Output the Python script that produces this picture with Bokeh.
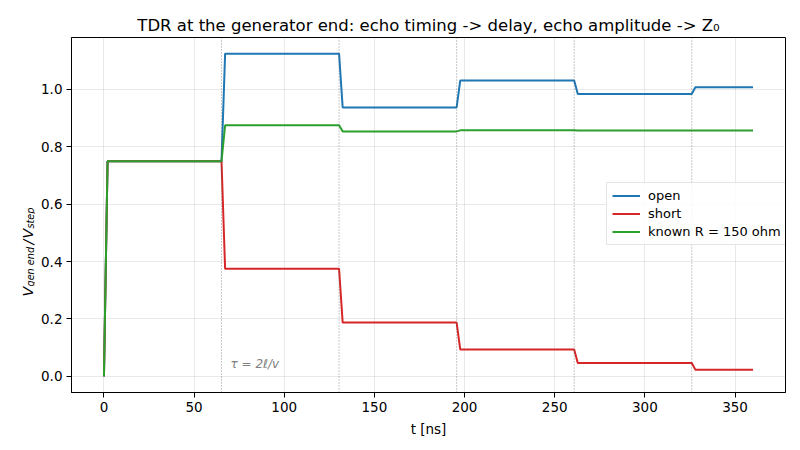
import math
from bokeh.plotting import figure
from bokeh.layouts import row
from bokeh.models import Span, Label, FixedTicker, PrintfTickFormatter, Legend, LegendItem, Range1d
from bokeh.embed import file_html
from bokeh.resources import INLINE

# ---- data ----
step_times = [0.0, 65.2, 130.4, 195.6, 260.8, 326.0]   # ns, echo arrival times
ramp_ns = 2.0                                          # rise time of each step
t_end = 360.0
open_levels = [0.75, 1.125, 0.9375, 1.03125, 0.984375, 1.0078]
short_levels = [0.75, 0.375, 0.1875, 0.09375, 0.046875, 0.0234]
known_levels = [0.75, 0.875, 0.854, 0.8576, 0.8570, 0.8571]
series_names = ["open", "short", "known R = 150 ohm"]
series_colors = ["#1f77b4", "#d62728", "#2ca02c"]
echo_marks = [65.2, 130.4, 195.6, 260.8, 326.0]
x_ticks = [0, 50, 100, 150, 200, 250, 300, 350]
y_ticks = [0.0, 0.2, 0.4, 0.6, 0.8, 1.0]
title_text = "TDR at the generator end: echo timing -> delay, echo amplitude -> Z₀"

FONT = "DejaVu Sans"
X0, X1 = -18.0, 378.0
Y0, Y1 = -0.05625, 1.18125
FW, FH = 714, 355
LEFT_W = 35          # strip holding the y-axis title
MAIN_BL = 36         # main figure left border (tick labels)
TOTAL_H = 442


def waveform(levels):
    xs, ys = [0.0], [0.0]
    prev = 0.0
    for t, lv in zip(step_times, levels):
        if t > 0:
            xs.append(t)
            ys.append(prev)
        xs.append(t + ramp_ns)
        ys.append(lv)
        prev = lv
    xs.append(t_end)
    ys.append(prev)
    return xs, ys


p = figure(
    frame_width=FW, frame_height=FH,
    min_border_left=MAIN_BL, min_border_right=7, min_border_top=37, min_border_bottom=50,
    x_range=(X0, X1), y_range=(Y0, Y1),
    output_backend="svg", toolbar_location=None, title=title_text,
)
p.title.align = "center"
p.title.text_font = FONT
p.title.text_font_size = "16.5px"
p.title.text_font_style = "normal"
p.title.text_color = "black"
p.title.standoff = 6

p.background_fill_color = "white"
p.border_fill_color = "white"
p.outline_line_color = "black"
p.outline_line_alpha = 1.0
p.outline_line_width = 1

for ax in (p.xaxis, p.yaxis):
    ax.major_tick_out = 5
    ax.major_tick_in = 0
    ax.minor_tick_out = 0
    ax.minor_tick_in = 0
    ax.major_label_text_font = FONT
    ax.major_label_text_font_size = "13.5px"
    ax.major_label_text_color = "black"
    ax.axis_line_color = "black"
    ax.major_tick_line_color = "black"
    ax.axis_label_text_font = FONT
    ax.axis_label_text_font_size = "13.5px"
    ax.axis_label_text_font_style = "normal"
    ax.axis_label_text_color = "black"

p.xaxis.ticker = FixedTicker(ticks=x_ticks)
p.yaxis.ticker = FixedTicker(ticks=y_ticks)
p.yaxis.formatter = PrintfTickFormatter(format="%.1f")
p.xaxis.axis_label = "t [ns]"
p.xaxis.axis_label_standoff = 6
p.xaxis.major_label_standoff = 4
p.yaxis.major_label_standoff = 4

p.grid.grid_line_color = "#b0b0b0"
p.grid.grid_line_alpha = 0.35
p.grid.grid_line_width = 0.8

# echo markers
for t in echo_marks:
    p.add_layout(Span(location=t, dimension="height", line_color="#555555",
                      line_dash="1 2", line_width=0.8, line_alpha=0.8))

items = []
for name, color, levels in zip(series_names, series_colors,
                               [open_levels, short_levels, known_levels]):
    xs, ys = waveform(levels)
    r = p.line(xs, ys, line_color=color, line_width=2)
    items.append(LegendItem(label=name, renderers=[r]))

legend = Legend(items=items, location=(535, 147))
legend.label_text_font = FONT
legend.label_text_font_size = "13px"
legend.label_text_color = "black"
legend.label_height = 15
legend.glyph_height = 15
legend.glyph_width = 28
legend.label_standoff = 8
legend.spacing = 3
legend.padding = 5
legend.margin = 0
legend.border_line_color = "#cccccc"
legend.border_line_width = 1
legend.background_fill_alpha = 0.85
p.add_layout(legend)

# tau annotation
p.add_layout(Label(x=echo_marks[0] + 5, y=0.02, text="τ = 2ℓ/v",
                   text_font=FONT, text_font_style="italic",
                   text_font_size="12px", text_color="#808080"))

# ---- left strip carrying the y-axis title V_gen end / V_step ----
lab = figure(frame_width=LEFT_W, frame_height=TOTAL_H,
             min_border_left=0, min_border_right=0, min_border_top=0, min_border_bottom=0,
             x_range=Range1d(0, LEFT_W), y_range=Range1d(0, TOTAL_H),
             output_backend="svg", toolbar_location=None)
lab.xaxis.visible = False
lab.yaxis.visible = False
lab.grid.visible = False
lab.outline_line_color = None
lab.background_fill_color = "white"
lab.border_fill_color = "white"

rot = math.pi / 2
ylab_parts = [   # text, font px, baseline x, start y (px from top of page)
    ("V", 14, 27.0, 259.0),
    ("gen end", 9.7, 29.5, 249.0),
    ("/", 14, 27.0, 207.0),
    ("V", 14, 27.0, 201.0),
    ("step", 9.7, 29.5, 191.0),
]
for txt, size, bx, sy in ylab_parts:
    lab.add_layout(Label(x=bx, y=TOTAL_H - sy, x_units="screen", y_units="screen",
                         text=txt, angle=rot,
                         text_font=FONT, text_font_style="italic",
                         text_font_size=f"{size}px", text_color="black",
                         text_align="left", text_baseline="alphabetic"))

layout = row(lab, p, spacing=0)
open("out.html", "w").write(file_html(layout, INLINE))
